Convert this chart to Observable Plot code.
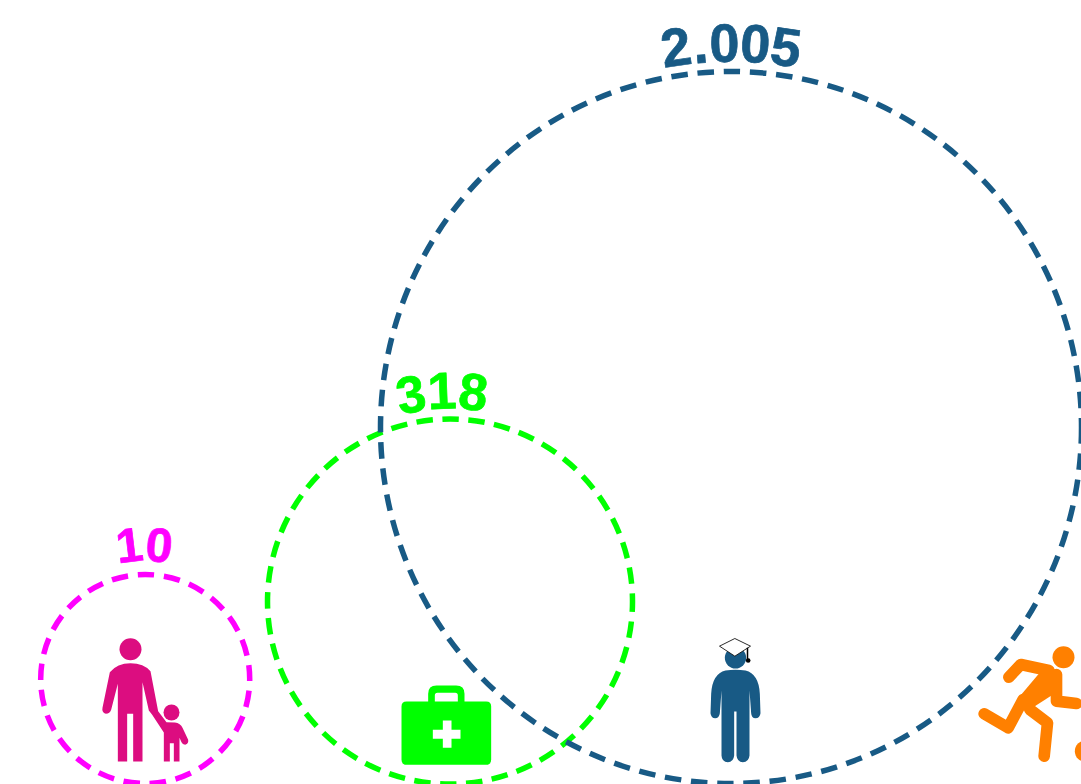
<!DOCTYPE html>
<html><head><meta charset="utf-8">
<style>html,body{margin:0;padding:0;background:#fff;overflow:hidden}svg{display:block}</style>
<script src="https://cdn.jsdelivr.net/npm/d3@7"></script>
<script src="https://cdn.jsdelivr.net/npm/@observablehq/plot@0.6"></script>
</head><body><div id="chart"></div>
<script>
// Values
const categories = ["Kinder", "Gesundheit", "Bildung", "Sport"];
const valueLabels = ["10", "318", "2.005"];
const values = [10, 318, 2005];
// Layout
const centerX = [144.7, 449.5, 730.5];
const centerY = [678.5, 601, 427];
const radiiX = [104.5, 182.5, 350.5];
const radiiY = [104.5, 182.5, 356];
const dashPeriods = [26.26, 26, 26.3];
const ringColors = ["#ff00ff", "#00ff00", "#185a85"];
const labelOffsets = [29, 27, 27];
const labelShifts = [-1, -8, 0];
const labelSizes = [48, 52, 54];
const labelAdvances = [0.62, 0.6, 0.57];
const iconX = [145, 445, 735, 1021];
const iconY = [695, 725, 700, 709];
const iconW = [130, 110, 80, 120];
const iconH = [150, 100, 140, 150];

const svgUri = (w, h, body) => "data:image/svg+xml," + encodeURIComponent(
  `<svg xmlns="http://www.w3.org/2000/svg" width="${w}" height="${h}" viewBox="0 0 ${w * 3} ${h * 3}">${body}</svg>`);

const family = svgUri(130, 150, `<g fill="#dc0d80">
 <circle cx="150" cy="86" r="33"/>
 <path d="M112 423V190L92 268Q88 280 76 280Q63 276 66 262L88 155Q110 128 150 128Q190 128 210 152L233 272L258 305L283 306Q300 308 306 322L323 358Q325 370 314 373Q306 372 303 365L297 352V423H280V368H268V423H250V336L215 283L205 270L186 185V423H158V280H140V423Z"/>
 <circle cx="273" cy="276" r="24"/></g>`);
const kit = svgUri(110, 100, `<path fill="#00ff00" fill-rule="evenodd" d="M48 78H113V55Q113 30 138 30H197Q222 30 222 55V78H287Q302 78 302 93V253Q302 268 287 268H48Q33 268 33 253V93Q33 78 48 78Z M133 78H202V60Q202 52 194 52H141Q133 52 133 60Z M157 135H183V163H210V190H183V217H157V190H127V163H157Z"/>`);
const grad = svgUri(80, 140, `<g fill="#185a85"><circle cx="120" cy="82" r="32"/>
 <path d="M90 120Q120 116 150 120Q190 130 193 190L195 248Q193 263 180 263Q168 263 167 248L162 180V375Q160 395 142 395Q125 395 123 375V243H116V375Q114 395 97 395Q79 395 78 375V180L73 248Q71 263 59 263Q47 263 45 248L47 190Q50 130 90 120Z"/></g>
 <path fill="#fff" stroke="#000" stroke-width="2.5" stroke-linejoin="round" d="M72 47L118 24L165 47L118 77Z"/>
 <path stroke="#000" stroke-width="4.5" fill="none" d="M156 52V88"/><circle cx="158" cy="90" r="7"/>`);
const run = svgUri(120, 150, `<circle cx="306" cy="68" r="33" fill="#ff8000"/>
 <g fill="none" stroke="#ff8000" stroke-width="35" stroke-linecap="round" stroke-linejoin="round">
 <path d="M142 128L178 90L262 108M285 120L285 200L345 207"/>
 <path d="M185 195L140 280L68 238M205 225L258 265L248 365"/></g>
 <path fill="#ff8000" d="M175 185L232 118L262 92L300 120L298 165L220 215L188 228Z"/>
 <circle cx="372" cy="350" r="32" fill="#ff8000"/>`);
const icons = [family, kit, grad, run];

const rings = values.map((v, i) => ({value: v, x: centerX[i], y: centerY[i], rx: radiiX[i], ry: radiiY[i], color: ringColors[i], period: dashPeriods[i]}));
const iconRows = categories.map((c, i) => ({category: c, x: iconX[i], y: iconY[i], w: iconW[i], h: iconH[i], src: icons[i]}));

// One text row per character, bent along its ring
const glyphs = valueLabels.flatMap((label, i) => {
  const chars = [...label];
  const size = labelSizes[i];
  const advance = ch => size * (ch === "." ? 0.33 : labelAdvances[i]);
  const total = d3.sum(chars, advance);
  const R = radiiY[i] + labelOffsets[i];
  let pos = -total / 2 + labelShifts[i];
  return chars.map(ch => {
    const s = pos + advance(ch) / 2; pos += advance(ch);
    const a = s / R;
    return {ch, size, x: centerX[i] + R * Math.sin(a), y: centerY[i] - R * Math.cos(a), rotate: a * 180 / Math.PI, color: ringColors[i]};
  });
});

// A ring is a dot that may be squeezed a little, with a dash centred on its top
const ringMark = ring => {
  const a = ring.rx, b = ring.ry;
  const length = Math.PI * (3 * (a + b) - Math.sqrt((3 * a + b) * (a + 3 * b)));
  const offset = (8 - 0.75 * length) % ring.period;
  return Plot.dot([ring], {
    x: "x", y: "y", r: () => a, stroke: "color", fill: "none", strokeWidth: 5.5,
    strokeDasharray: `16.5 ${ring.period - 16.5}`, strokeDashoffset: offset,
    render(index, scales, vals, dims, ctx, next) {
      const g = next(index, scales, vals, dims, ctx);
      d3.select(g).selectAll("circle")
        .attr("transform", `translate(${vals.x[0]},${vals.y[0]}) scale(1,${b / a}) translate(${-vals.x[0]},${-vals.y[0]})`)
        .attr("vector-effect", "non-scaling-stroke");
      return g;
    }
  });
};

const chart = Plot.plot({
  width: 1081, height: 784, margin: 0,
  x: {domain: [0, 1081], range: [0, 1081], axis: null},
  y: {domain: [0, 784], range: [0, 784], axis: null},
  r: {type: "identity"},
  marks: [
    Plot.image(iconRows, {x: "x", y: "y", width: "w", height: "h", src: "src"}),
    ...rings.map(ringMark),
    ...labelSizes.map(size => Plot.text(glyphs.filter(d => d.size === size), {
      x: "x", y: "y", text: "ch", rotate: "rotate", fill: "color", stroke: "color", strokeWidth: 0.7,
      fontSize: size, fontWeight: "bold", fontFamily: "Liberation Sans", textAnchor: "middle", lineAnchor: "middle"}))
  ]
});
document.getElementById("chart").appendChild(chart);
</script></body></html>
